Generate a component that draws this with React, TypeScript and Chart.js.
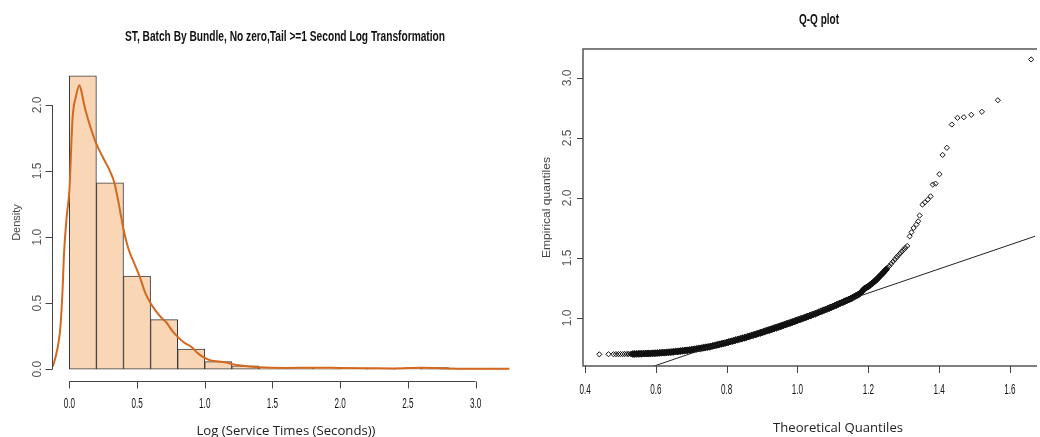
import React, { useEffect, useRef } from 'react';
import { Chart, registerables } from 'chart.js';

Chart.register(...registerables);

// ---------- Left panel: histogram + density ----------
const histTitle = 'ST, Batch By Bundle, No zero,Tail >=1 Second Log Transformation';
const histXLabel = 'Log (Service Times (Seconds))';
const histYLabel = 'Density';
const binCenters = [0.1, 0.3, 0.5, 0.7, 0.9, 1.1, 1.3, 1.5, 1.7, 1.9, 2.1, 2.3, 2.5, 2.7, 2.9, 3.1];
const binDensity = [2.22, 1.41, 0.705, 0.375, 0.152, 0.058, 0.025, 0.008, 0.008, 0.012, 0.006, 0.004, 0.006, 0.012, 0.004, 0.004];
const densityX = [-0.14, -0.12, -0.1, -0.08, -0.066, -0.05, -0.04, -0.02, 0.0, 0.024, 0.05, 0.074, 0.09, 0.11, 0.13, 0.16, 0.19, 0.22, 0.26, 0.3, 0.33, 0.36, 0.4, 0.44, 0.48, 0.52, 0.56, 0.6, 0.64, 0.68, 0.72, 0.76, 0.8, 0.85, 0.9, 0.95, 1.0, 1.05, 1.1, 1.15, 1.2, 1.25, 1.3, 1.4, 1.6, 1.8, 2.0, 2.2, 2.4, 2.6, 2.8, 3.0, 3.25];
const densityY = [0.0, 0.03, 0.1, 0.2, 0.32, 0.6, 0.86, 1.15, 1.35, 1.9, 2.07, 2.15, 2.1, 2.0, 1.92, 1.82, 1.73, 1.66, 1.58, 1.5, 1.42, 1.28, 1.06, 0.9, 0.8, 0.7, 0.58, 0.5, 0.44, 0.39, 0.35, 0.29, 0.245, 0.2, 0.17, 0.12, 0.086, 0.065, 0.058, 0.052, 0.04, 0.03, 0.025, 0.015, 0.01, 0.012, 0.01, 0.008, 0.006, 0.012, 0.006, 0.004, 0.003];
const histXTicks = [0, 0.5, 1.0, 1.5, 2.0, 2.5, 3.0];
const histYTicks = [0, 0.5, 1.0, 1.5, 2.0];

// ---------- Right panel: Q-Q plot ----------
const qqTitle = 'Q-Q plot';
const qqXLabel = 'Theoretical Quantiles';
const qqYLabel = 'Empirical quantiles';
const qqXTicks = [0.4, 0.6, 0.8, 1.0, 1.2, 1.4, 1.6];
const qqYTicks = [1.0, 1.5, 2.0, 2.5, 3.0];
// sparse points (drawn as distinct open diamonds)
const qqSparseTheoretical = [
  0.440, 0.466, 0.480, 0.487, 0.494, 0.500, 0.506, 0.512, 0.518, 0.523, 0.528, 0.532,
  1.255, 1.260, 1.265, 1.270, 1.275, 1.280, 1.285, 1.290, 1.295, 1.300, 1.305, 1.310,
  1.317, 1.322, 1.328, 1.336, 1.341, 1.345, 1.353, 1.360, 1.368, 1.376, 1.382, 1.390, 1.401,
  1.410, 1.422, 1.436, 1.452, 1.470, 1.491, 1.521, 1.566, 1.660,
];
const qqSparseEmpirical = [
  0.697, 0.698, 0.698, 0.699, 0.699, 0.699, 0.699, 0.700, 0.700, 0.700, 0.700, 0.700,
  1.419, 1.435, 1.452, 1.470, 1.488, 1.505, 1.521, 1.538, 1.554, 1.570, 1.585, 1.600,
  1.680, 1.713, 1.750, 1.778, 1.805, 1.853, 1.944, 1.963, 1.986, 2.013, 2.111, 2.119, 2.197,
  2.358, 2.417, 2.611, 2.667, 2.672, 2.692, 2.717, 2.813, 3.153,
];
// dense band (points overlap into a solid black stroke)
const qqDenseTheoretical = [
  0.535, 0.540, 0.545, 0.550, 0.555, 0.560, 0.565, 0.570, 0.575, 0.580, 0.585, 0.590, 0.595,
  0.600, 0.605, 0.610, 0.615, 0.620, 0.625, 0.630, 0.635, 0.640, 0.645, 0.650, 0.655, 0.660,
  0.665, 0.670, 0.675, 0.680, 0.685, 0.690, 0.695, 0.700, 0.705, 0.710, 0.715, 0.720, 0.725,
  0.730, 0.735, 0.740, 0.745, 0.750, 0.755, 0.760, 0.765, 0.770, 0.775, 0.780, 0.785, 0.790,
  0.795, 0.800, 0.805, 0.810, 0.815, 0.820, 0.825, 0.830, 0.835, 0.840, 0.845, 0.850, 0.855,
  0.860, 0.865, 0.870, 0.875, 0.880, 0.885, 0.890, 0.895, 0.900, 0.905, 0.910, 0.915, 0.920,
  0.925, 0.930, 0.935, 0.940, 0.945, 0.950, 0.955, 0.960, 0.965, 0.970, 0.975, 0.980, 0.985,
  0.990, 0.995, 1.000, 1.005, 1.010, 1.015, 1.020, 1.025, 1.030, 1.035, 1.040, 1.045, 1.050,
  1.055, 1.060, 1.065, 1.070, 1.075, 1.080, 1.085, 1.090, 1.095, 1.100, 1.105, 1.110, 1.115,
  1.120, 1.125, 1.130, 1.135, 1.140, 1.145, 1.150, 1.155, 1.160, 1.165, 1.170, 1.175, 1.180,
  1.185, 1.190, 1.195, 1.200, 1.205, 1.210, 1.215, 1.220, 1.225, 1.230, 1.235, 1.240, 1.245,
  1.250,
];
const qqDenseEmpirical = [
  0.700, 0.700, 0.701, 0.701, 0.702, 0.702, 0.703, 0.703, 0.704, 0.704, 0.705, 0.706, 0.706,
  0.707, 0.708, 0.709, 0.710, 0.711, 0.712, 0.713, 0.714, 0.715, 0.717, 0.718, 0.720, 0.721,
  0.723, 0.725, 0.726, 0.728, 0.730, 0.731, 0.733, 0.735, 0.737, 0.740, 0.742, 0.745, 0.747,
  0.750, 0.752, 0.755, 0.757, 0.760, 0.763, 0.767, 0.770, 0.774, 0.777, 0.781, 0.784, 0.788,
  0.791, 0.795, 0.799, 0.803, 0.807, 0.811, 0.815, 0.819, 0.823, 0.827, 0.831, 0.835, 0.839,
  0.844, 0.848, 0.853, 0.857, 0.862, 0.866, 0.871, 0.875, 0.880, 0.885, 0.890, 0.894, 0.899,
  0.904, 0.909, 0.914, 0.918, 0.923, 0.928, 0.933, 0.938, 0.944, 0.949, 0.954, 0.959, 0.964,
  0.970, 0.975, 0.980, 0.986, 0.991, 0.997, 1.002, 1.008, 1.013, 1.019, 1.024, 1.030, 1.035,
  1.041, 1.047, 1.053, 1.059, 1.065, 1.071, 1.077, 1.083, 1.089, 1.095, 1.102, 1.108, 1.115,
  1.121, 1.128, 1.134, 1.141, 1.147, 1.154, 1.160, 1.168, 1.176, 1.184, 1.192, 1.200, 1.215,
  1.231, 1.246, 1.254, 1.262, 1.274, 1.286, 1.298, 1.310, 1.325, 1.340, 1.355, 1.370, 1.386,
  1.403,
];
const qqLineX = [0.4, 1.8];
const qqLineY = [0.404, 1.81];

const SANS = '"Liberation Sans", Arial, sans-serif';

type TextOpts = {
  size: number;
  weight?: string;
  family?: string;
  color?: string;
  sx?: number;
  width?: number;
  rotate?: number;
};

function drawText(ctx: CanvasRenderingContext2D, text: string, x: number, y: number, o: TextOpts) {
  ctx.save();
  ctx.font = `${o.weight || 'normal'} ${o.size}px ${o.family || SANS}`;
  ctx.fillStyle = o.color || '#333';
  ctx.textAlign = 'center';
  ctx.textBaseline = 'middle';
  ctx.translate(x, y);
  if (o.rotate) ctx.rotate(o.rotate);
  let sx = o.sx ?? 1;
  if (o.width) sx = o.width / ctx.measureText(text).width;
  ctx.scale(sx, 1);
  ctx.fillText(text, 0, 0);
  ctx.restore();
}

function fmt(v: number) {
  return v.toFixed(1);
}

const histAxesPlugin = {
  id: 'histAxes',
  afterDraw(chart: any) {
    const ctx: CanvasRenderingContext2D = chart.ctx;
    const xs = chart.scales.x;
    const ys = chart.scales.y;
    const area = chart.chartArea;
    ctx.save();
    ctx.strokeStyle = '#444';
    ctx.lineWidth = 1;
    const ay = Math.round(area.bottom) + 0.5;
    ctx.beginPath();
    ctx.moveTo(xs.getPixelForValue(histXTicks[0]), ay);
    ctx.lineTo(xs.getPixelForValue(histXTicks[histXTicks.length - 1]), ay);
    for (const t of histXTicks) {
      const px = Math.round(xs.getPixelForValue(t)) + 0.5;
      ctx.moveTo(px, ay);
      ctx.lineTo(px, ay + 7);
    }
    const ax = Math.round(area.left) + 0.5;
    ctx.moveTo(ax, ys.getPixelForValue(histYTicks[0]));
    ctx.lineTo(ax, ys.getPixelForValue(histYTicks[histYTicks.length - 1]));
    for (const t of histYTicks) {
      const py = Math.round(ys.getPixelForValue(t)) + 0.5;
      ctx.moveTo(ax, py);
      ctx.lineTo(ax - 7, py);
    }
    ctx.stroke();
    ctx.restore();
    for (const t of histXTicks) {
      drawText(ctx, fmt(t), xs.getPixelForValue(t), ay + 22, { size: 14.5, sx: 0.56, color: '#111' });
    }
    for (const t of histYTicks) {
      drawText(ctx, fmt(t), ax - 15, ys.getPixelForValue(t), { size: 12, color: '#555', rotate: -Math.PI / 2 });
    }
    drawText(ctx, histYLabel, 17, (area.top + area.bottom) / 2, { size: 11, color: '#444', rotate: -Math.PI / 2 });
    drawText(ctx, histTitle, 285, 37, { size: 14, weight: 'bold', color: '#111', width: 320 });
    drawText(ctx, histXLabel, 286, 431, { size: 12.5, family: '"Open Sans", "Noto Sans", sans-serif', color: '#222', width: 179 });
  },
};

const qqAxesPlugin = {
  id: 'qqAxes',
  afterDraw(chart: any) {
    const ctx: CanvasRenderingContext2D = chart.ctx;
    const xs = chart.scales.x;
    const ys = chart.scales.y;
    const area = chart.chartArea;
    ctx.save();
    ctx.strokeStyle = '#555';
    ctx.lineWidth = 1.5;
    ctx.beginPath();
    ctx.moveTo(area.right + 2, area.top);
    ctx.lineTo(area.left, area.top);
    ctx.lineTo(area.left, area.bottom);
    ctx.lineTo(area.right + 2, area.bottom);
    ctx.stroke();
    ctx.lineWidth = 1;
    ctx.strokeStyle = '#444';
    ctx.beginPath();
    const ay = area.bottom;
    for (const t of qqXTicks) {
      const px = Math.round(xs.getPixelForValue(t)) + 0.5;
      ctx.moveTo(px, ay);
      ctx.lineTo(px, ay + 7);
    }
    const ax = area.left;
    for (const t of qqYTicks) {
      const py = Math.round(ys.getPixelForValue(t)) + 0.5;
      ctx.moveTo(ax, py);
      ctx.lineTo(ax - 6, py);
    }
    ctx.stroke();
    ctx.restore();
    for (const t of qqXTicks) {
      drawText(ctx, fmt(t), xs.getPixelForValue(t), ay + 24, { size: 14.5, sx: 0.56, color: '#111' });
    }
    for (const t of qqYTicks) {
      drawText(ctx, fmt(t), ax - 15, ys.getPixelForValue(t), { size: 12, color: '#555', rotate: -Math.PI / 2 });
    }
    drawText(ctx, qqYLabel, 27, (area.top + area.bottom) / 2, { size: 11.5, color: '#444', rotate: -Math.PI / 2, width: 101 });
    drawText(ctx, qqTitle, 299, 20, { size: 14, weight: 'bold', color: '#111', width: 40 });
    drawText(ctx, qqXLabel, 318, 428, { size: 13, family: '"Open Sans", "Noto Sans", sans-serif', color: '#222', width: 130 });
  },
};

export default function App() {
  const leftRef = useRef<HTMLCanvasElement>(null);
  const rightRef = useRef<HTMLCanvasElement>(null);

  useEffect(() => {
    const left = new Chart(leftRef.current as HTMLCanvasElement, {
      type: 'bar',
      data: {
        datasets: [
          {
            type: 'line',
            data: densityX.map((x, i) => ({ x, y: densityY[i] })),
            borderColor: '#D2691E',
            borderWidth: 2,
            pointRadius: 0,
            cubicInterpolationMode: 'monotone',
            order: 1,
          } as any,
          {
            type: 'bar',
            data: binCenters.map((x, i) => ({ x, y: binDensity[i] })),
            backgroundColor: '#F9D6B6',
            borderColor: '#3a3a3a',
            borderWidth: 1,
            borderSkipped: false,
            barPercentage: 1,
            categoryPercentage: 1,
            order: 2,
          } as any,
        ],
      },
      options: {
        responsive: false,
        maintainAspectRatio: false,
        animation: false,
        events: [],
        layout: { padding: { left: 52, top: 64, right: 0, bottom: 56 } },
        plugins: { legend: { display: false }, tooltip: { enabled: false } },
        scales: {
          x: { type: 'linear', min: -0.128, max: 3.328, offset: false, display: false },
          y: { type: 'linear', min: -0.089, max: 2.31, display: false },
        },
      },
      plugins: [histAxesPlugin],
    } as any);

    const right = new Chart(rightRef.current as HTMLCanvasElement, {
      type: 'scatter',
      data: {
        datasets: [
          {
            type: 'scatter',
            data: qqDenseTheoretical.map((x, i) => ({ x, y: qqDenseEmpirical[i] })),
            pointStyle: 'rectRot',
            pointRadius: 3.4,
            pointBorderWidth: 1,
            pointBorderColor: '#111',
            pointBackgroundColor: '#111',
            showLine: false,
            order: 3,
          } as any,
          {
            type: 'scatter',
            data: qqSparseTheoretical.map((x, i) => ({ x, y: qqSparseEmpirical[i] })),
            pointStyle: 'rectRot',
            pointRadius: 2.6,
            pointBorderWidth: 1,
            pointBorderColor: '#111',
            pointBackgroundColor: 'rgba(255,255,255,0)',
            showLine: false,
            order: 2,
          } as any,
          {
            type: 'line',
            data: qqLineX.map((x, i) => ({ x, y: qqLineY[i] })),
            borderColor: '#222',
            borderWidth: 1,
            pointRadius: 0,
            order: 1,
          } as any,
        ],
      },
      options: {
        responsive: false,
        maintainAspectRatio: false,
        animation: false,
        events: [],
        layout: { padding: { left: 63, top: 49, right: 0, bottom: 71 } },
        plugins: { legend: { display: false }, tooltip: { enabled: false } },
        scales: {
          x: { type: 'linear', min: 0.394, max: 1.671, display: false },
          y: { type: 'linear', min: 0.6, max: 3.24, display: false },
        },
      },
      plugins: [qqAxesPlugin],
    } as any);

    return () => {
      left.destroy();
      right.destroy();
    };
  }, []);

  return (
    <div style={{ position: 'fixed', left: 0, top: 0, width: 1040, height: 437, background: '#fff', overflow: 'hidden' }}>
      <canvas ref={leftRef} width={520} height={437} style={{ position: 'absolute', left: 0, top: 0, width: 520, height: 437 }} />
      <canvas ref={rightRef} width={520} height={437} style={{ position: 'absolute', left: 520, top: 0, width: 520, height: 437 }} />
    </div>
  );
}
